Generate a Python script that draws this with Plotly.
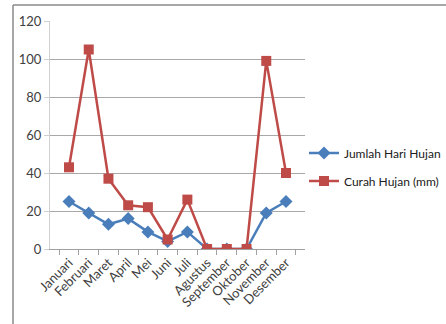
import plotly.graph_objects as go

bulan = ["Januari", "Februari", "Maret", "April", "Mei", "Juni", "Juli",
         "Agustus", "September", "Oktober", "November", "Desember"]
hari_hujan = [25, 19, 13, 16, 9, 4, 9, 0, 0, 0, 19, 25]
curah_hujan = [43, 105, 37, 23, 22, 5, 26, 0, 0, 0, 99, 40]
y_ticks = [0, 20, 40, 60, 80, 100, 120]

W, H = 446, 324
L, R, T, B = 50, 141, 21, 75
pw, ph = W - L - R, H - T - B

def px(x):
    return (x - L) / pw

def py(y):
    return (H - B - y) / ph

FONT = "Lato, Calibri, sans-serif"
BLUE = "#4a7ebb"
RED = "#be4b48"

fig = go.Figure()
fig.add_trace(go.Scatter(
    x=bulan, y=hari_hujan, name="Jumlah Hari Hujan", mode="lines+markers",
    legendgroup="hari",
    line=dict(color=BLUE, width=2.5),
    marker=dict(symbol="diamond", size=10, color=BLUE),
))
fig.add_trace(go.Scatter(
    x=bulan, y=curah_hujan, name="Curah Hujan (mm)", mode="lines+markers",
    legendgroup="curah",
    line=dict(color=RED, width=2.5),
    marker=dict(symbol="square", size=10, color=RED),
))

# outer chart frame (left and top edges visible)
fig.add_shape(type="line", xref="paper", yref="paper",
              x0=px(13), x1=px(13), y0=py(5), y1=py(H + 5),
              line=dict(color="#8a8a8a", width=1.5))
fig.add_shape(type="line", xref="paper", yref="paper",
              x0=px(13), x1=px(W + 5), y0=py(5), y1=py(5),
              line=dict(color="#8a8a8a", width=1.5))

fig.update_layout(
    width=W, height=H,
    margin=dict(l=L, r=R, t=T, b=B, autoexpand=False),
    paper_bgcolor="white", plot_bgcolor="white",
    font=dict(family=FONT, size=13, color="#404040"),
    showlegend=True,
    legend=dict(x=px(304), y=py(167), xanchor="left", yanchor="middle",
                font=dict(family=FONT, size=12, color="#202020"),
                traceorder="grouped", tracegroupgap=9, itemwidth=30,
                bgcolor="rgba(0,0,0,0)"),
)
fig.update_xaxes(
    type="category", tickangle=-45, tickson="boundaries",
    ticks="outside", ticklen=5, tickcolor="#a0a0a0",
    showline=True, linecolor="#a0a0a0", linewidth=1,
    showgrid=False, tickfont=dict(size=13, color="#404040"),
)
fig.update_yaxes(
    range=[0, 120], tickvals=y_ticks, ticks="outside", ticklen=5,
    tickcolor="#d0d0d0", showline=True, linecolor="#d0d0d0",
    gridcolor="#a8a8a8", gridwidth=1, zeroline=False,
    tickfont=dict(size=13, color="#404040"),
)

fig.write_html("out.html")
